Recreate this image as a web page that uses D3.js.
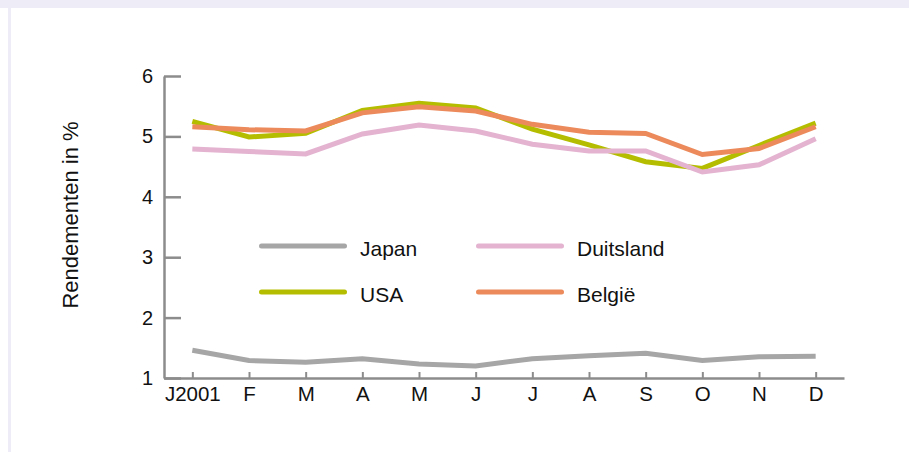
<!DOCTYPE html>
<html>
<head>
<meta charset="utf-8">
<script src="https://cdn.jsdelivr.net/npm/d3@7/dist/d3.min.js"></script>
<style>
  html, body { margin: 0; padding: 0; background: #fff; }
  svg { display: block; }
  text { font-family: "Liberation Sans", Arial, sans-serif; fill: #111; }
</style>
</head>
<body>
<svg id="chart" width="909" height="452"></svg>
<script>
const months = ["J2001", "F", "M", "A", "M ", "J", "J ", "A ", "S", "O", "N", "D"];
const monthLabels = ["J2001", "F", "M", "A", "M", "J", "J", "A", "S", "O", "N", "D"];
const yTicks = [1, 2, 3, 4, 5, 6];
const seriesNames = ["Japan", "USA", "Duitsland", "België"];
const japan     = [1.46, 1.29, 1.26, 1.32, 1.23, 1.20, 1.32, 1.37, 1.41, 1.29, 1.35, 1.36];
const usa       = [5.25, 4.99, 5.05, 5.43, 5.55, 5.47, 5.12, 4.86, 4.58, 4.47, 4.85, 5.22];
const duitsland = [4.79, 4.75, 4.71, 5.04, 5.19, 5.09, 4.87, 4.76, 4.76, 4.41, 4.53, 4.96];
const belgie    = [5.16, 5.11, 5.09, 5.39, 5.49, 5.42, 5.20, 5.07, 5.05, 4.70, 4.80, 5.16];
const colors = ["#a6a6a6", "#b5bd00", "#e3b3d0", "#ec8a5c"];

const svg = d3.select("#chart");

// background frame
svg.append("rect").attr("x", 0).attr("y", 0).attr("width", 909).attr("height", 8).attr("fill", "#eeecf6");
svg.append("rect").attr("x", 8).attr("y", 0).attr("width", 3).attr("height", 452).attr("fill", "#eeecf6");

const x = d3.scalePoint().domain(months).range([164, 844]).padding(0.5);
const y = d3.scaleLinear().domain([1, 6]).range([378, 76]);

const axisColor = "#8c8c8c";

// y axis
const gy = svg.append("g").attr("transform", "translate(164,0)")
  .call(d3.axisLeft(y).tickValues(yTicks).tickSizeInner(-17).tickSizeOuter(0).tickPadding(11).tickFormat(d3.format("d")));
gy.select(".domain").attr("stroke", axisColor).attr("stroke-width", 2.5);
gy.selectAll(".tick line").attr("stroke", axisColor).attr("stroke-width", 2.5);
gy.selectAll(".tick text").style("font-size", "20px").attr("fill", "#111").attr("font-family", "Liberation Sans, Arial, sans-serif");

// x axis
const gx = svg.append("g").attr("transform", "translate(0,378)")
  .call(d3.axisBottom(x).tickSizeInner(-6).tickSizeOuter(0).tickPadding(8).tickFormat((d, i) => monthLabels[i]));
gx.select(".domain").attr("stroke", axisColor).attr("stroke-width", 2.5);
gx.selectAll(".tick line").attr("stroke", axisColor).attr("stroke-width", 2);
gx.selectAll(".tick text").style("font-size", "20.5px").attr("fill", "#111").attr("font-family", "Liberation Sans, Arial, sans-serif");

// y label
svg.append("text")
  .attr("transform", "translate(78,215) rotate(-90)")
  .attr("text-anchor", "middle")
  .style("font-size", "22px")
  .text("Rendementen in %");

// lines
const data = [japan, usa, duitsland, belgie];
const line = d3.line().x((d, i) => x(months[i])).y(d => y(d));
data.forEach((vals, k) => {
  svg.append("path")
    .datum(vals)
    .attr("d", line)
    .attr("fill", "none")
    .attr("stroke", colors[k])
    .attr("stroke-width", 5)
    .attr("stroke-linejoin", "miter")
    .attr("stroke-linecap", "butt");
});

// legend (column-major: Japan, USA | Duitsland, België)
const legX = [259, 476];
const legY = [246, 292];
seriesNames.forEach((name, k) => {
  const col = Math.floor(k / 2), row = k % 2;
  const g = svg.append("g").attr("transform", `translate(${legX[col]},${legY[row]})`);
  g.append("line").attr("x1", 2.5).attr("x2", 85.5).attr("y1", 0).attr("y2", 0)
    .attr("stroke", colors[k]).attr("stroke-width", 5).attr("stroke-linecap", "round");
  g.append("text").attr("x", 101).attr("y", 10)
    .style("font-size", "21px").text(name);
});
</script>
</body>
</html>
